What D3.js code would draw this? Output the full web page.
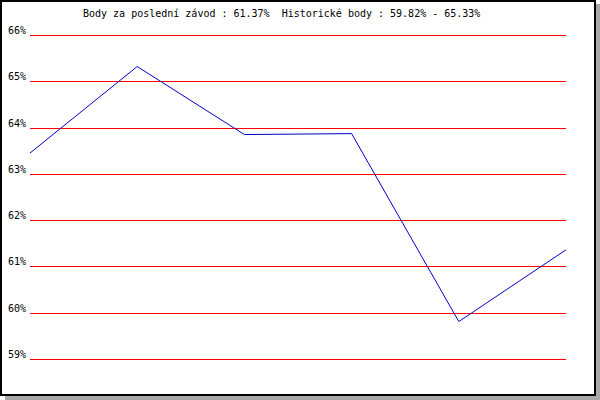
<!DOCTYPE html>
<html><head><meta charset="utf-8">
<script src="https://cdn.jsdelivr.net/npm/d3@7"></script>
<style>body{margin:0;background:#fff}svg{display:block}text{font-family:"DejaVu Sans Mono",monospace;font-size:10px;fill:#000;white-space:pre}</style>
</head><body>
<script>
const races = [1, 2, 3, 4, 5, 6];
const points = [63.46, 65.33, 63.86, 63.88, 59.82, 61.37];
const ticks = [59, 60, 61, 62, 63, 64, 65, 66];
const title = "Body za poslední závod : 61.37%  Historické body : 59.82% - 65.33%";

const W = 600, H = 400;
const svg = d3.select("body").append("svg").attr("width", W).attr("height", H);

// shadow + frame
svg.append("rect").attr("x", 5).attr("y", 4).attr("width", 595).attr("height", 396).attr("fill", "#a8a8a8");
svg.append("rect").attr("x", 1).attr("y", 1).attr("width", 594).attr("height", 394)
  .attr("fill", "#fff").attr("stroke", "#000").attr("stroke-width", 2);

const x = d3.scaleLinear().domain([1, 6]).range([30, 566]);
const y = d3.scaleLinear().domain([59, 66]).range([359, 35]);

svg.append("g").selectAll("line").data(ticks).join("line")
  .attr("x1", 30).attr("x2", 566)
  .attr("y1", d => Math.round(y(d)) + 0.5).attr("y2", d => Math.round(y(d)) + 0.5)
  .attr("stroke", "#ff0000").attr("stroke-width", 1)
  .attr("shape-rendering", "crispEdges");

svg.append("g").selectAll("text").data(ticks).join("text")
  .attr("x", 26).attr("y", d => Math.round(y(d)) - 1)
  .attr("text-anchor", "end").text(d => d + "%");

svg.append("path").datum(points)
  .attr("d", d3.line().x((d, i) => x(races[i])).y(d => y(d) + 0.5))
  .attr("fill", "none").attr("stroke", "#0000cc").attr("stroke-width", 1);

svg.append("text").attr("x", 83).attr("y", 17).attr("xml:space", "preserve").text(title);
</script>
</body></html>
